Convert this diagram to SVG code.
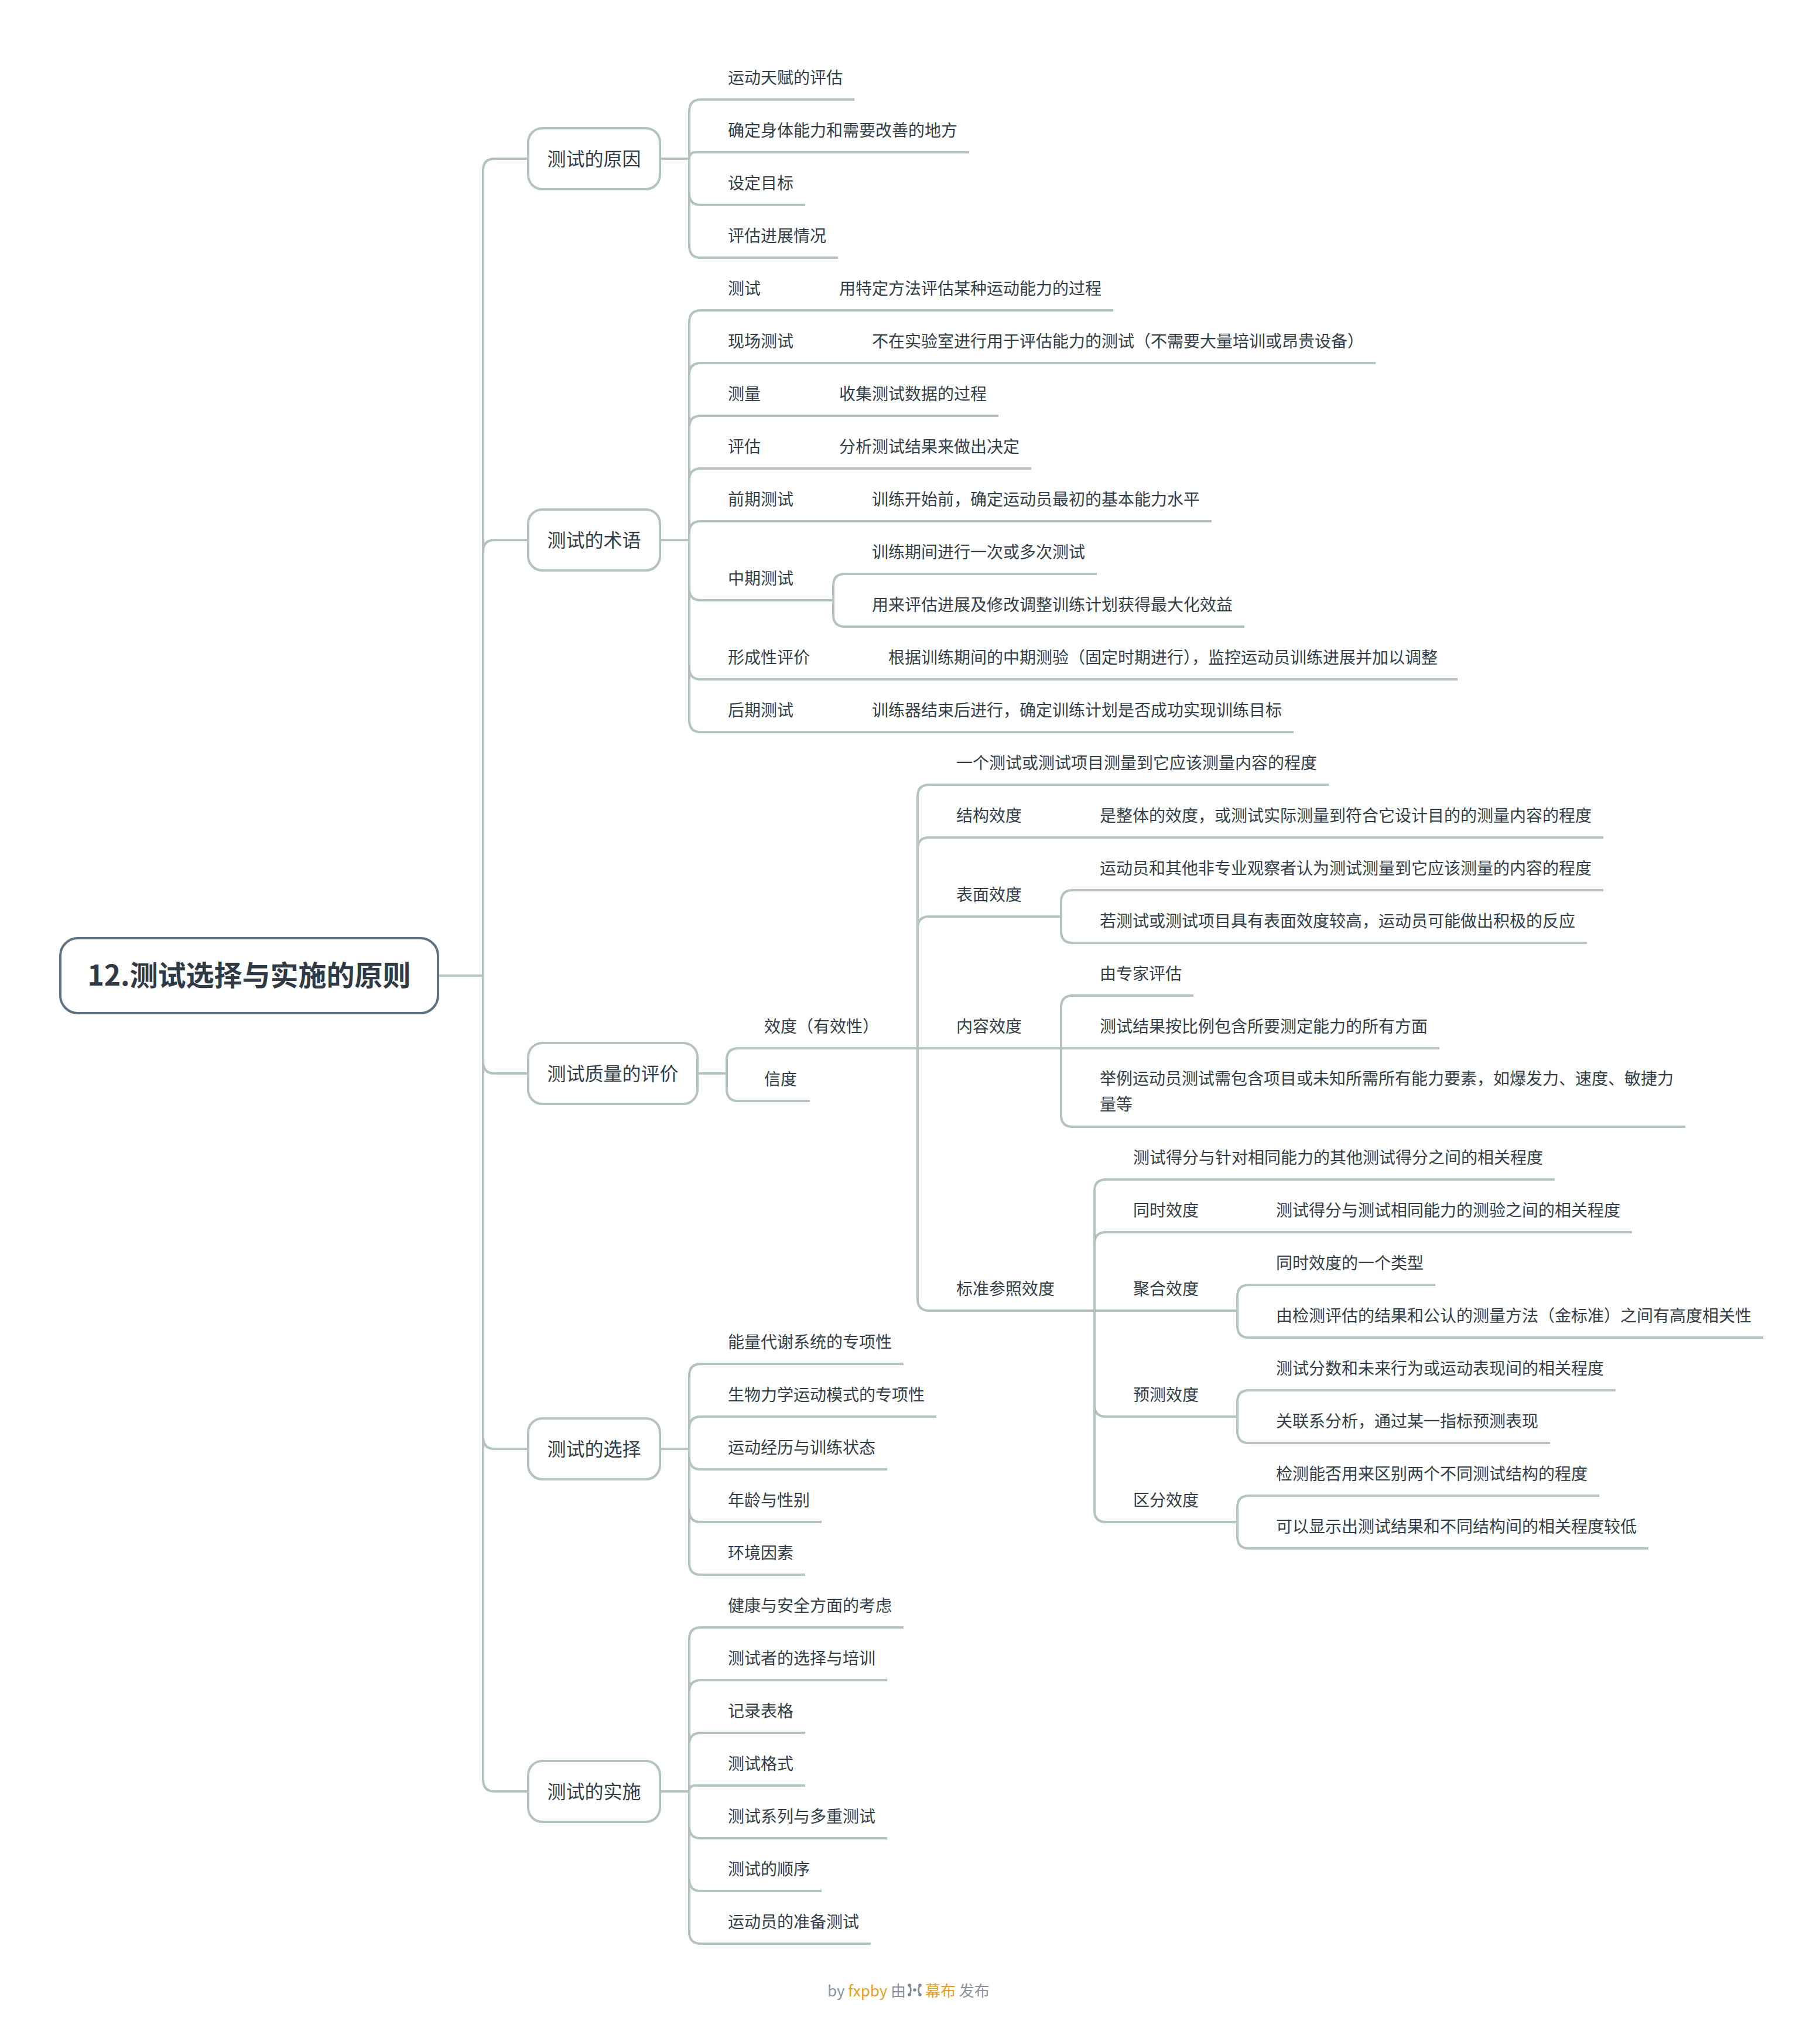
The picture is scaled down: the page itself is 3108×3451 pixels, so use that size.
<svg xmlns="http://www.w3.org/2000/svg" width="3108" height="3451" viewBox="0 0 3108 3451">
<style>
.ln{fill:none;stroke:#b4c2c2;stroke-width:4}
.t{font-family:"Noto Sans CJK SC","Noto Sans",sans-serif;font-size:28px;fill:#333d47}
.t1{font-family:"Noto Sans CJK SC","Noto Sans",sans-serif;font-size:32px;fill:#333d47;text-anchor:middle}
.rt{font-family:"Noto Sans CJK SC","Noto Sans",sans-serif;font-size:48px;font-weight:bold;fill:#2f3a45;text-anchor:middle}
.box{fill:#fff;stroke:#b4c2c2;stroke-width:4}
.rootbox{fill:#fff;stroke:#5e7282;stroke-width:4}
.ft{font-family:"Noto Sans CJK SC","Noto Sans",sans-serif;font-size:26px;fill:#8b929b}
.fo{fill:#e3a21c}
</style>
<rect width="3108" height="3451" fill="#fff"/>
<g id="connectors">
<path class="ln" d="M748,1666 H825"/>
<path class="ln" d="M825,1666 V291 Q825,271 845,271 H902"/>
<path class="ln" d="M825,1666 V942 Q825,922 845,922 H902"/>
<path class="ln" d="M825,1666 V1813 Q825,1833 845,1833 H902"/>
<path class="ln" d="M825,1666 V2454 Q825,2474 845,2474 H902"/>
<path class="ln" d="M825,1666 V3039 Q825,3059 845,3059 H902"/>
<!-- 原因 -->
<path class="ln" d="M1127,271 H1177"/>
<path class="ln" d="M1177,271 V190 Q1177,170 1197,170 H1459"/>
<path class="ln" d="M1177,271 Q1177,260 1188,260 H1655"/>
<path class="ln" d="M1177,271 V330 Q1177,350 1197,350 H1375"/>
<path class="ln" d="M1177,271 V420 Q1177,440 1197,440 H1431"/>
<!-- 术语 -->
<path class="ln" d="M1127,922 H1177"/>
<path class="ln" d="M1177,922 V550 Q1177,530 1197,530 H1901"/>
<path class="ln" d="M1177,922 V640 Q1177,620 1197,620 H2349"/>
<path class="ln" d="M1177,922 V730 Q1177,710 1197,710 H1705"/>
<path class="ln" d="M1177,922 V820 Q1177,800 1197,800 H1761"/>
<path class="ln" d="M1177,922 V910 Q1177,890 1197,890 H2069"/>
<path class="ln" d="M1177,922 V1005 Q1177,1025 1197,1025 H1423"/>
<path class="ln" d="M1423,1025 V1000 Q1423,980 1443,980 H1873"/>
<path class="ln" d="M1423,1025 V1050 Q1423,1070 1443,1070 H2125"/>
<path class="ln" d="M1177,922 V1140 Q1177,1160 1197,1160 H2489"/>
<path class="ln" d="M1177,922 V1230 Q1177,1250 1197,1250 H2209"/>
<!-- 质量 -->
<path class="ln" d="M1191,1833 H1241"/>
<path class="ln" d="M1241,1833 V1810 Q1241,1790 1261,1790 H1567"/>
<path class="ln" d="M1241,1833 V1860 Q1241,1880 1261,1880 H1383"/>
<path class="ln" d="M1567,1790 V1360 Q1567,1340 1587,1340 H2269"/>
<path class="ln" d="M1567,1790 V1450 Q1567,1430 1587,1430 H2738"/>
<path class="ln" d="M1567,1790 V1585 Q1567,1565 1587,1565 H1812"/>
<path class="ln" d="M1812,1565 V1540 Q1812,1520 1832,1520 H2738"/>
<path class="ln" d="M1812,1565 V1590 Q1812,1610 1832,1610 H2710"/>
<path class="ln" d="M1567,1790 H1812"/>
<path class="ln" d="M1812,1790 V1720 Q1812,1700 1832,1700 H2038"/>
<path class="ln" d="M1812,1790 H2458"/>
<path class="ln" d="M1812,1790 V1904 Q1812,1924 1832,1924 H2878"/>
<path class="ln" d="M1567,1790 V2218 Q1567,2238 1587,2238 H1869"/>
<path class="ln" d="M1869,2238 V2034 Q1869,2014 1889,2014 H2655"/>
<path class="ln" d="M1869,2238 V2124 Q1869,2104 1889,2104 H2787"/>
<path class="ln" d="M1869,2238 H2113"/>
<path class="ln" d="M2113,2238 V2214 Q2113,2194 2133,2194 H2451"/>
<path class="ln" d="M2113,2238 V2264 Q2113,2284 2133,2284 H3011"/>
<path class="ln" d="M1869,2238 V2399 Q1869,2419 1889,2419 H2113"/>
<path class="ln" d="M2113,2419 V2394 Q2113,2374 2133,2374 H2759"/>
<path class="ln" d="M2113,2419 V2444 Q2113,2464 2133,2464 H2647"/>
<path class="ln" d="M1869,2238 V2579 Q1869,2599 1889,2599 H2113"/>
<path class="ln" d="M2113,2599 V2574 Q2113,2554 2133,2554 H2731"/>
<path class="ln" d="M2113,2599 V2624 Q2113,2644 2133,2644 H2815"/>
<!-- 选择 -->
<path class="ln" d="M1127,2474 H1177"/>
<path class="ln" d="M1177,2474 V2349 Q1177,2329 1197,2329 H1543"/>
<path class="ln" d="M1177,2474 V2439 Q1177,2419 1197,2419 H1599"/>
<path class="ln" d="M1177,2474 V2489 Q1177,2509 1197,2509 H1515"/>
<path class="ln" d="M1177,2474 V2579 Q1177,2599 1197,2599 H1403"/>
<path class="ln" d="M1177,2474 V2669 Q1177,2689 1197,2689 H1375"/>
<!-- 实施 -->
<path class="ln" d="M1127,3059 H1177"/>
<path class="ln" d="M1177,3059 V2799 Q1177,2779 1197,2779 H1543"/>
<path class="ln" d="M1177,3059 V2889 Q1177,2869 1197,2869 H1515"/>
<path class="ln" d="M1177,3059 V2979 Q1177,2959 1197,2959 H1375"/>
<path class="ln" d="M1177,3059 Q1177,3049 1187,3049 H1375"/>
<path class="ln" d="M1177,3059 V3119 Q1177,3139 1197,3139 H1515"/>
<path class="ln" d="M1177,3059 V3209 Q1177,3229 1197,3229 H1403"/>
<path class="ln" d="M1177,3059 V3299 Q1177,3319 1197,3319 H1487"/>
</g>
<g id="root"><rect class="rootbox" x="103" y="1602" width="645" height="128" rx="30"/><text class="rt" x="425.5" y="1683">12.测试选择与实施的原则</text></g>
<g id="n-yuanyin"><rect class="box" x="902" y="219" width="225" height="104" rx="24"/><text class="t1" x="1014.5" y="283">测试的原因</text></g>
<g id="n-shuyu"><rect class="box" x="902" y="870" width="225" height="104" rx="24"/><text class="t1" x="1014.5" y="934">测试的术语</text></g>
<g id="n-zhiliang"><rect class="box" x="902" y="1781" width="289" height="104" rx="24"/><text class="t1" x="1046.5" y="1845">测试质量的评价</text></g>
<g id="n-xuanze"><rect class="box" x="902" y="2422" width="225" height="104" rx="24"/><text class="t1" x="1014.5" y="2486">测试的选择</text></g>
<g id="n-shishi"><rect class="box" x="902" y="3007" width="225" height="104" rx="24"/><text class="t1" x="1014.5" y="3071">测试的实施</text></g>
<g id="n-yy1"><text class="t" x="1243" y="143">运动天赋的评估</text></g>
<g id="n-yy2"><text class="t" x="1243" y="233">确定身体能力和需要改善的地方</text></g>
<g id="n-yy3"><text class="t" x="1243" y="323">设定目标</text></g>
<g id="n-yy4"><text class="t" x="1243" y="413">评估进展情况</text></g>
<g id="n-sy1"><text class="t" x="1243" y="503">测试</text></g>
<g id="n-sy1d"><text class="t" x="1433" y="503">用特定方法评估某种运动能力的过程</text></g>
<g id="n-sy2"><text class="t" x="1243" y="593">现场测试</text></g>
<g id="n-sy2d"><text class="t" x="1489" y="593">不在实验室进行用于评估能力的测试（不需要大量培训或昂贵设备）</text></g>
<g id="n-sy3"><text class="t" x="1243" y="683">测量</text></g>
<g id="n-sy3d"><text class="t" x="1433" y="683">收集测试数据的过程</text></g>
<g id="n-sy4"><text class="t" x="1243" y="773">评估</text></g>
<g id="n-sy4d"><text class="t" x="1433" y="773">分析测试结果来做出决定</text></g>
<g id="n-sy5"><text class="t" x="1243" y="863">前期测试</text></g>
<g id="n-sy5d"><text class="t" x="1489" y="863">训练开始前，确定运动员最初的基本能力水平</text></g>
<g id="n-sy6"><text class="t" x="1243" y="998">中期测试</text></g>
<g id="n-sy6a"><text class="t" x="1489" y="953">训练期间进行一次或多次测试</text></g>
<g id="n-sy6b"><text class="t" x="1489" y="1043">用来评估进展及修改调整训练计划获得最大化效益</text></g>
<g id="n-sy7"><text class="t" x="1243" y="1133">形成性评价</text></g>
<g id="n-sy7d"><text class="t" x="1517" y="1133">根据训练期间的中期测验（固定时期进行），监控运动员训练进展并加以调整</text></g>
<g id="n-sy8"><text class="t" x="1243" y="1223">后期测试</text></g>
<g id="n-sy8d"><text class="t" x="1489" y="1223">训练器结束后进行，确定训练计划是否成功实现训练目标</text></g>
<g id="n-xd"><text class="t" x="1305" y="1763">效度（有效性）</text></g>
<g id="n-xind"><text class="t" x="1305" y="1853">信度</text></g>
<g id="n-xd1"><text class="t" x="1633" y="1313">一个测试或测试项目测量到它应该测量内容的程度</text></g>
<g id="n-jg"><text class="t" x="1633" y="1403">结构效度</text></g>
<g id="n-jgd"><text class="t" x="1878" y="1403">是整体的效度，或测试实际测量到符合它设计目的的测量内容的程度</text></g>
<g id="n-bm"><text class="t" x="1633" y="1538">表面效度</text></g>
<g id="n-bm1"><text class="t" x="1878" y="1493">运动员和其他非专业观察者认为测试测量到它应该测量的内容的程度</text></g>
<g id="n-bm2"><text class="t" x="1878" y="1583">若测试或测试项目具有表面效度较高，运动员可能做出积极的反应</text></g>
<g id="n-nr"><text class="t" x="1633" y="1763">内容效度</text></g>
<g id="n-nr1"><text class="t" x="1878" y="1673">由专家评估</text></g>
<g id="n-nr2"><text class="t" x="1878" y="1763">测试结果按比例包含所要测定能力的所有方面</text></g>
<g id="n-nr3"><text class="t" x="1878" y="1852">举例运动员测试需包含项目或未知所需所有能力要素，如爆发力、速度、敏捷力</text><text class="t" x="1878" y="1896">量等</text></g>
<g id="n-bz"><text class="t" x="1633" y="2211">标准参照效度</text></g>
<g id="n-bz1"><text class="t" x="1935" y="1987">测试得分与针对相同能力的其他测试得分之间的相关程度</text></g>
<g id="n-ts"><text class="t" x="1935" y="2077">同时效度</text></g>
<g id="n-tsd"><text class="t" x="2179" y="2077">测试得分与测试相同能力的测验之间的相关程度</text></g>
<g id="n-jh"><text class="t" x="1935" y="2211">聚合效度</text></g>
<g id="n-jh1"><text class="t" x="2179" y="2167">同时效度的一个类型</text></g>
<g id="n-jh2"><text class="t" x="2179" y="2257">由检测评估的结果和公认的测量方法（金标准）之间有高度相关性</text></g>
<g id="n-yc"><text class="t" x="1935" y="2392">预测效度</text></g>
<g id="n-yc1"><text class="t" x="2179" y="2347">测试分数和未来行为或运动表现间的相关程度</text></g>
<g id="n-yc2"><text class="t" x="2179" y="2437">关联系分析，通过某一指标预测表现</text></g>
<g id="n-qf"><text class="t" x="1935" y="2572">区分效度</text></g>
<g id="n-qf1"><text class="t" x="2179" y="2527">检测能否用来区别两个不同测试结构的程度</text></g>
<g id="n-qf2"><text class="t" x="2179" y="2617">可以显示出测试结果和不同结构间的相关程度较低</text></g>
<g id="n-xz1"><text class="t" x="1243" y="2302">能量代谢系统的专项性</text></g>
<g id="n-xz2"><text class="t" x="1243" y="2392">生物力学运动模式的专项性</text></g>
<g id="n-xz3"><text class="t" x="1243" y="2482">运动经历与训练状态</text></g>
<g id="n-xz4"><text class="t" x="1243" y="2572">年龄与性别</text></g>
<g id="n-xz5"><text class="t" x="1243" y="2662">环境因素</text></g>
<g id="n-ss1"><text class="t" x="1243" y="2752">健康与安全方面的考虑</text></g>
<g id="n-ss2"><text class="t" x="1243" y="2842">测试者的选择与培训</text></g>
<g id="n-ss3"><text class="t" x="1243" y="2932">记录表格</text></g>
<g id="n-ss4"><text class="t" x="1243" y="3022">测试格式</text></g>
<g id="n-ss5"><text class="t" x="1243" y="3112">测试系列与多重测试</text></g>
<g id="n-ss6"><text class="t" x="1243" y="3202">测试的顺序</text></g>
<g id="n-ss7"><text class="t" x="1243" y="3292">运动员的准备测试</text></g>
<g id="footer">
<text class="ft" x="1413" y="3409">by <tspan class="fo">fxpby</tspan> 由</text>
<g fill="#7f868f" stroke="#7f868f" stroke-width="2.5">
<path d="M1553,3390 Q1558,3398 1553,3406" fill="none"/>
<circle cx="1553" cy="3390" r="2.8" stroke="none"/>
<circle cx="1553" cy="3406" r="2.8" stroke="none"/>
<circle cx="1562" cy="3398" r="2.8" stroke="none"/>
<path d="M1571,3390 Q1566,3398 1571,3406" fill="none"/>
<circle cx="1571" cy="3390" r="2.8" stroke="none"/>
<circle cx="1571" cy="3406" r="2.8" stroke="none"/>
</g>
<text class="ft" x="1580" y="3409"><tspan class="fo">幕布</tspan> 发布</text>
</g>
</svg>
